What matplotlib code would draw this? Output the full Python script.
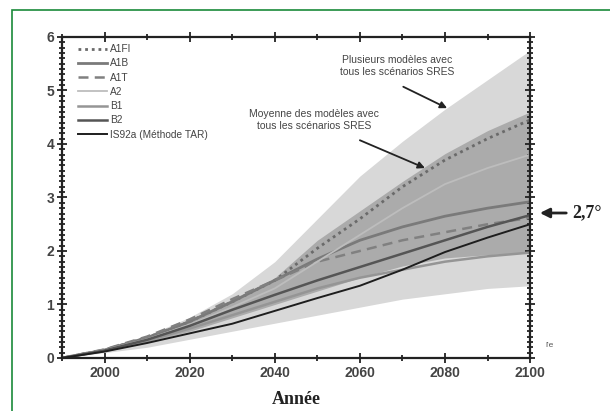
import numpy as np
import matplotlib.pyplot as plt
from matplotlib.patches import Rectangle
from matplotlib.ticker import MultipleLocator

years = [1990, 2000, 2010, 2020, 2030, 2040, 2050, 2060, 2070, 2080, 2090, 2100]

# enveloppes
all_models_hi = [0, 0.18, 0.42, 0.76, 1.2, 1.8, 2.6, 3.4, 4.05, 4.65, 5.2, 5.75]
all_models_lo = [0, 0.1, 0.2, 0.35, 0.5, 0.65, 0.8, 0.95, 1.1, 1.2, 1.3, 1.35]
mean_hi = [0, 0.16, 0.4, 0.72, 1.1, 1.5, 2.2, 2.75, 3.3, 3.82, 4.25, 4.6]
mean_lo = [0, 0.13, 0.3, 0.5, 0.75, 1.0, 1.25, 1.5, 1.72, 1.87, 1.93, 1.97]

# scenarios
a1fi = [0, 0.15, 0.38, 0.68, 1.05, 1.45, 2.05, 2.6, 3.2, 3.7, 4.1, 4.45]
a1b = [0, 0.15, 0.38, 0.68, 1.05, 1.45, 1.85, 2.2, 2.45, 2.65, 2.8, 2.92]
a1t = [0, 0.16, 0.4, 0.72, 1.1, 1.45, 1.8, 2.0, 2.2, 2.35, 2.5, 2.62]
a2 = [0, 0.15, 0.35, 0.62, 0.95, 1.3, 1.8, 2.3, 2.8, 3.25, 3.55, 3.8]
b1 = [0, 0.13, 0.32, 0.55, 0.8, 1.05, 1.3, 1.5, 1.65, 1.8, 1.9, 1.97]
b2 = [0, 0.14, 0.34, 0.6, 0.9, 1.18, 1.45, 1.7, 1.95, 2.2, 2.45, 2.67]
is92a = [0, 0.12, 0.28, 0.46, 0.64, 0.88, 1.12, 1.35, 1.65, 1.98, 2.25, 2.5]

plt.rcParams['font.family'] = ['Liberation Sans', 'DejaVu Sans']

fig = plt.figure(figsize=(6.1, 4.11), dpi=100)
ax = fig.add_axes([0.1016, 0.129, 0.7674, 0.781])

ax.fill_between(years, all_models_lo, all_models_hi, color='#d8d8d8', lw=0)
ax.fill_between(years, mean_lo, mean_hi, color='#ababab', lw=0)

ax.plot(years, a1fi, color='#6a6a6a', lw=2, ls=(0, (1, 1.4)), label='A1FI')
ax.plot(years, a1b, color='#7a7a7a', lw=2, label='A1B')
ax.plot(years, a1t, color='#808080', lw=1.8, ls=(0, (4, 2.5)), label='A1T')
ax.plot(years, a2, color='#bdbdbd', lw=1.3, label='A2')
ax.plot(years, b1, color='#959595', lw=1.8, label='B1')
ax.plot(years, b2, color='#555555', lw=1.8, label='B2')
ax.plot(years, is92a, color='#1e1e1e', lw=1.4, label='IS92a (Méthode TAR)')

ax.set_xlim(1990, 2100)
ax.set_ylim(0, 6)
ax.xaxis.set_major_locator(MultipleLocator(20))
ax.xaxis.set_minor_locator(MultipleLocator(10))
ax.yaxis.set_major_locator(MultipleLocator(1))
ax.yaxis.set_minor_locator(MultipleLocator(0.1))
ax.tick_params(which='both', direction='inout', top=True, right=True, width=1.3, color='#222222')
ax.tick_params(which='major', length=7, labelsize=10, labelcolor='#444444', pad=2)
ax.tick_params(which='minor', length=4)
ax.set_xticks([2000, 2020, 2040, 2060, 2080, 2100])
for lab in ax.get_xticklabels() + ax.get_yticklabels():
    lab.set_fontweight('bold')
for s in ax.spines.values():
    s.set_linewidth(1.6)
    s.set_color('#222222')

ax.set_xlabel('Année', family='Liberation Serif', fontweight='bold', fontsize=13, labelpad=8, color='#222222')

leg = ax.legend(loc='upper left', bbox_to_anchor=(0.02, 1.0), frameon=False, fontsize=7.3,
                handlelength=2.8, labelspacing=0.42, handletextpad=0.3, borderaxespad=0.3)
for t in leg.get_texts():
    t.set_color('#444444')

arrow = dict(arrowstyle='-|>', color='#222222', lw=1.3, shrinkA=0, shrinkB=0)
ax.text(2068.8, 5.46, 'Plusieurs modèles avec\ntous les scénarios SRES', ha='center', va='center',
        fontsize=7.5, color='#444444', linespacing=1.3)
ax.annotate('', xy=(2080.5, 4.67), xytext=(2070.2, 5.07), arrowprops=arrow)
ax.text(2049.3, 4.45, 'Moyenne des modèles avec\ntous les scénarios SRES', ha='center', va='center',
        fontsize=7.5, color='#444444', linespacing=1.3)
ax.annotate('', xy=(2075.3, 3.55), xytext=(2060.0, 4.07), arrowprops=arrow)

ax.annotate('2,7°', xy=(2102.3, 2.71), xytext=(2109.8, 2.71), xycoords='data',
            ha='left', va='center', fontsize=13, fontweight='bold', family='Liberation Serif',
            color='#222222', annotation_clip=False,
            arrowprops=dict(arrowstyle='-|>', color='#222222', lw=2, mutation_scale=14, shrinkB=0, shrinkA=2))
fig.text(545 / 610, 1 - 345 / 411, "l'e", fontsize=6, color='#555555', va='center')

fig.patches.append(Rectangle((12 / 610, -0.1), 1.2, 1 - 10 / 411 + 0.1, transform=fig.transFigure,
                             fill=False, edgecolor='#1a8a3a', lw=1.2))

fig.savefig('out.png', dpi=100)
